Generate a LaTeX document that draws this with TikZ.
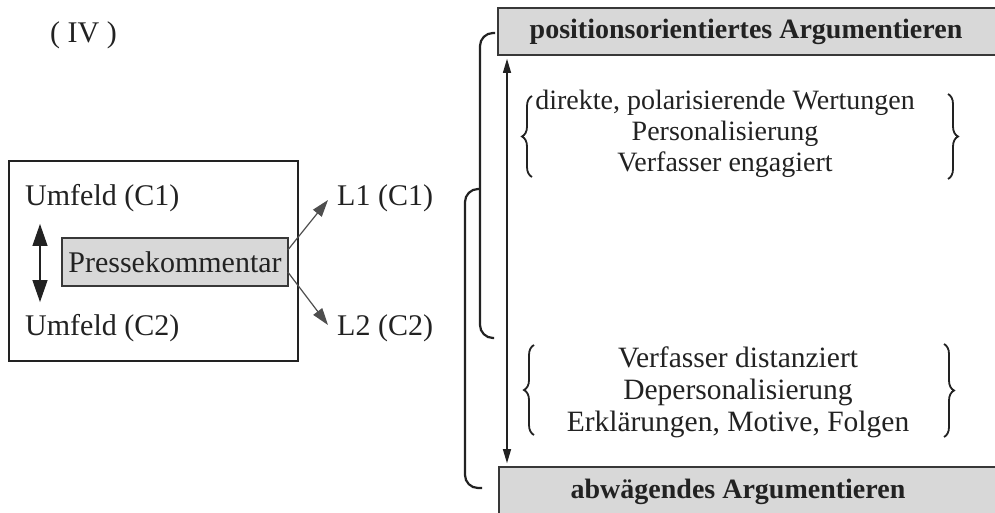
\documentclass[tikz,border=0pt]{standalone}
\usepackage{fontspec}
\setmainfont{Liberation Serif}
\usetikzlibrary{arrows.meta,decorations.pathreplacing,calc}
\definecolor{ink}{HTML}{222222}
\definecolor{boxgray}{HTML}{D8D8D8}
\begin{document}
\begin{tikzpicture}[x=1pt,y=-1pt,
  txt/.style={font=\fontsize{30}{31}\selectfont, inner sep=0pt, text=ink},
  rtxt/.style={font=\fontsize{28}{31}\selectfont, inner sep=0pt, text=ink},
  btxt/.style={font=\fontsize{28}{31}\selectfont\bfseries, inner sep=0pt, text=ink},
  frame/.style={draw=ink, line width=1.6pt, inner sep=0pt},
  grbox/.style={draw=ink!90, fill=boxgray, line width=1.6pt, inner sep=0pt},
  bigarrow/.style={draw=ink, line width=1.2pt, {Triangle[length=22pt,width=15pt]}-{Triangle[length=22pt,width=15pt]}},
  diagarrow/.style={draw=ink!80, line width=1.2pt, -{Triangle[length=17pt,width=11pt]}},
  thinarrow/.style={draw=ink, line width=1.2pt, {Triangle[length=14pt,width=8pt]}-{Triangle[length=14pt,width=8pt]}},
  bracket/.style={draw=ink, line width=2.2pt, rounded corners=13pt},
  cbrace/.style={draw=ink, line width=1.8pt, decorate, decoration={brace, amplitude=10pt, aspect=0.5}},
]
\clip (0,0) rectangle (995,512);
\fill[white] (0,0) rectangle (995,512);

% left part
\node[txt, anchor=west] (iv) at (50,35) {( IV )};
\node[frame, minimum width=289pt, minimum height=200pt] (frm) at (153.5,261) {};
\node[txt, anchor=west] (u1) at (25,198) {Umfeld (C1)};
\node[txt, anchor=west] (u2) at (25,328) {Umfeld (C2)};
\node[grbox, minimum width=226pt, minimum height=48pt, font=\fontsize{30}{31}\selectfont, text=ink] (pk) at (175,262) {Pressekommentar};
\node[txt, anchor=west] (l1) at (337,198) {L1 (C1)};
\node[txt, anchor=west] (l2) at (337,328) {L2 (C2)};

\draw[bigarrow] ($(u1.south west)+(15,12)$) -- ($(u2.north west)+(15,-12)$);
\draw[diagarrow] ($(pk.east)+(-1,-12)$) -- ($(l1.west)+(-9,2)$);
\draw[diagarrow] ($(pk.east)+(-1,10)$) -- ($(l2.west)+(-9,-3)$);

% right part
\node[grbox, minimum width=504pt, minimum height=47pt] (pos) at (750,31.5) {};
\node[btxt] (post) at (746,32) {positionsorientiertes Argumentieren};
\node[grbox, minimum width=504pt, minimum height=50pt] (abw) at (751,492) {};
\node[btxt] (abwt) at (738,492) {abwägendes Argumentieren};

\draw[thinarrow, shorten <=3pt, shorten >=3pt] (pos.south -| 507,0) -- (abw.north -| 507,0);

\node[rtxt, align=center] (blk1) at (725,134) {direkte, polarisierende Wertungen\\Personalisierung\\Verfasser engagiert};
\node[rtxt, font=\fontsize{29.5}{32}\selectfont, align=center] (blk2) at (738,392) {Verfasser distanziert\\Depersonalisierung\\Erklärungen, Motive, Folgen};

\draw[cbrace] (532,177) -- (532,96);
\draw[cbrace] (948,94) -- (948,179);
\draw[cbrace] (534,435) -- (534,345);
\draw[cbrace] (944,344) -- (944,437);

\draw[bracket] (495,33) -- (480,33) -- (480,338) -- (494,338);
\draw[bracket] (480,189) -- (465,189) -- (465,488) -- (482,488);
\end{tikzpicture}
\end{document}
